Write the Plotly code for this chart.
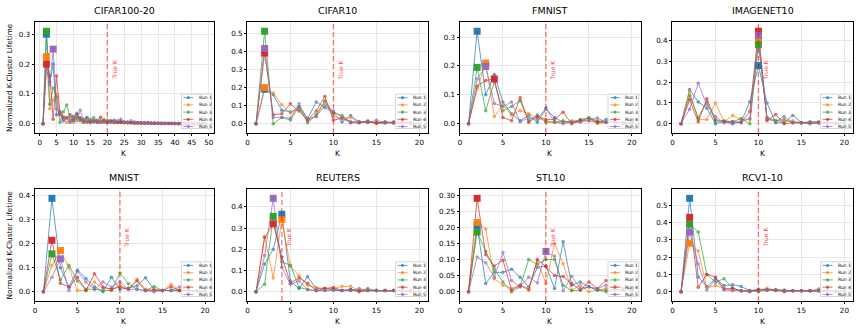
import plotly.graph_objects as go
from plotly.subplots import make_subplots

RUNS = ["Run 1", "Run 2", "Run 3", "Run 4", "Run 5"]
COLORS = ["#1f77b4", "#ff7f0e", "#2ca02c", "#d62728", "#9467bd"]

K_LONG = list(range(1, 50))
K_SHORT = list(range(1, 21))

CIFAR100_20 = [
    [0, 0.30, 0.14, 0.20, 0.03, 0.04, 0.01, 0.02, 0.005, 0.025,
     0.035, 0.01, 0.015, 0.02, 0.005, 0.01, 0.012, 0.005, 0.008, 0.005,
     0.01, 0.012, 0.005, 0.008, 0.004, 0.006, 0.003, 0.005, 0.003, 0.004,
     0.002, 0.003, 0.002, 0.003, 0.002, 0.002, 0.001, 0.002, 0.001, 0.001,
     0.001, 0.001, 0, 0, 0, 0, 0, 0, 0],
    [0, 0.225, 0.05, 0.08, 0.10, 0.03, 0.025, 0.005, 0.01, 0.005,
     0.02, 0.01, 0.005, 0.01, 0.004, 0.008, 0.005, 0.006, 0.015, 0.004,
     0.008, 0.003, 0.005, 0.004, 0.006, 0.003, 0.004, 0.002, 0.003, 0.002,
     0.002, 0.003, 0.001, 0.002, 0.001, 0.002, 0.001, 0.001, 0.001, 0.001,
     0, 0.001, 0, 0, 0, 0, 0, 0, 0],
    [0, 0.31, 0.065, 0.12, 0.09, 0.005, 0.04, 0.063, 0.02, 0.01,
     0.02, 0.015, 0.005, 0.02, 0.005, 0.02, 0.008, 0.01, 0.005, 0.012,
     0.006, 0.008, 0.004, 0.005, 0.006, 0.003, 0.004, 0.005, 0.002, 0.003,
     0.002, 0.003, 0.002, 0.002, 0.001, 0.002, 0.001, 0.001, 0.001, 0.001,
     0.001, 0, 0, 0, 0, 0, 0, 0, 0],
    [0, 0.20, 0.16, 0.015, 0.16, 0.035, 0.02, 0.02, 0.03, 0.015,
     0.03, 0.02, 0.01, 0.005, 0.01, 0.008, 0.005, 0.022, 0.01, 0.005,
     0.008, 0.004, 0.006, 0.005, 0.003, 0.004, 0.003, 0.002, 0.004, 0.002,
     0.003, 0.002, 0.002, 0.001, 0.002, 0.001, 0.002, 0.001, 0.001, 0.001,
     0, 0.001, 0, 0, 0, 0, 0, 0, 0],
    [0, 0.185, 0.13, 0.25, 0.05, 0.03, 0.015, 0.02, 0.01, 0.02,
     0.01, 0.045, 0.01, 0.008, 0.015, 0.005, 0.01, 0.004, 0.006, 0.005,
     0.004, 0.006, 0.01, 0.015, 0.005, 0.004, 0.01, 0.003, 0.002, 0.003,
     0.002, 0.002, 0.002, 0.001, 0.002, 0.001, 0.001, 0.001, 0.001, 0.001,
     0.001, 0, 0, 0, 0, 0, 0, 0, 0],
]

CIFAR10 = [
    [0, 0.19, 0.16, 0.075, 0.065, 0.09, 0.03, 0.12, 0.09, 0.06,
     0.01, 0.045, 0.01, 0.01, 0.005, 0.01, 0.005, 0.005, 0.004, 0.003],
    [0, 0.20, 0.17, 0.105, 0.06, 0.08, 0.02, 0.04, 0.12, 0.04,
     0.03, 0.035, 0.005, 0.015, 0.0, 0.005, 0.01, 0.005, 0.004, 0.003],
    [0, 0.51, 0.0, 0.035, 0.02, 0.095, 0.005, 0.05, 0.125, 0.06,
     0.045, 0.01, 0.01, 0.015, 0.005, 0.01, 0.005, 0.005, 0.003, 0.003],
    [0, 0.39, 0.05, 0.055, 0.11, 0.07, 0.02, 0.07, 0.15, 0.02,
     0.03, 0.005, 0.005, 0.01, 0.005, 0.005, 0.005, 0.004, 0.003, 0.002],
    [0, 0.415, 0.035, 0.035, 0.03, 0.11, 0.025, 0.04, 0.10, 0.07,
     0.035, 0.01, 0.01, 0.005, 0.02, 0.005, 0.01, 0.005, 0.004, 0.003],
]

FMNIST = [
    [0, 0.32, 0.10, 0.17, 0.075, 0.035, 0.01, 0.03, 0.005, 0.05,
     0.022, 0.005, 0.005, 0.01, 0.02, 0.005, 0.015, 0.005, 0.004, 0.003],
    [0, 0.12, 0.21, 0.025, 0.065, 0.03, 0.045, 0.035, 0.02, 0.01,
     0.005, 0.005, 0.01, 0.01, 0.02, 0.0, 0.005, 0.005, 0.003, 0.003],
    [0, 0.195, 0.045, 0.145, 0.045, 0.06, 0.08, 0.01, 0.03, 0.005,
     0.005, 0.01, 0.005, 0.015, 0.02, 0.01, 0.005, 0.004, 0.003, 0.002],
    [0, 0.13, 0.15, 0.155, 0.022, 0.01, 0.09, 0.005, 0.025, 0.015,
     0.015, 0.04, 0.0, 0.01, 0.01, 0.005, 0.005, 0.004, 0.003, 0.002],
    [0, 0.155, 0.198, 0.07, 0.06, 0.075, 0.007, 0.02, 0.015, 0.055,
     0.005, 0.0, 0.005, 0.005, 0.015, 0.02, 0.005, 0.004, 0.003, 0.002],
]

IMAGENET10 = [
    [0, 0.165, 0.105, 0.075, 0.0, 0.01, 0.0, 0.01, 0.105, 0.28,
     0.10, 0.005, 0.005, 0.04, 0.005, 0.0, 0.005, 0.004, 0.003, 0.002],
    [0, 0.155, 0.02, 0.02, 0.10, 0.01, 0.04, 0.02, 0.02, 0.40,
     0.02, 0.015, 0.01, 0.015, 0.005, 0.005, 0.005, 0.004, 0.003, 0.002],
    [0, 0.135, 0.03, 0.105, 0.01, 0.015, 0.01, 0.025, 0.0, 0.38,
     0.03, 0.015, 0.02, 0.005, 0.005, 0.01, 0.01, 0.005, 0.003, 0.002],
    [0, 0.115, 0.01, 0.12, 0.02, 0.01, 0.01, 0.005, 0.06, 0.445,
     0.015, 0.045, 0.0, 0.005, 0.005, 0.005, 0.005, 0.004, 0.003, 0.002],
    [0, 0.07, 0.195, 0.09, 0.035, 0.005, 0.005, 0.01, 0.025, 0.425,
     0.025, 0.01, 0.035, 0.005, 0.005, 0.005, 0.005, 0.004, 0.003, 0.002],
]

MNIST = [
    [0, 0.39, 0.10, 0.02, 0.09, 0.055, 0.02, 0.0, 0.06, 0.01,
     0.015, 0.025, 0.058, 0.01, 0.005, 0.005, 0.005, 0.004, 0.003, 0.002],
    [0, 0.11, 0.172, 0.10, 0.005, 0.005, 0.04, 0.015, 0.01, 0.025,
     0.01, 0.052, 0.01, 0.01, 0.005, 0.03, 0.005, 0.004, 0.003, 0.002],
    [0, 0.158, 0.05, 0.11, 0.045, 0.01, 0.01, 0.005, 0.005, 0.078,
     0.033, 0.01, 0.005, 0.022, 0.005, 0.005, 0.005, 0.004, 0.003, 0.002],
    [0, 0.215, 0.035, 0.02, 0.06, 0.005, 0.075, 0.02, 0.01, 0.02,
     0.01, 0.045, 0.005, 0.005, 0.005, 0.02, 0.005, 0.004, 0.003, 0.002],
    [0, 0.06, 0.137, 0.005, 0.085, 0.04, 0.01, 0.04, 0.02, 0.04,
     0.01, 0.01, 0.005, 0.0, 0.005, 0.005, 0.02, 0.004, 0.003, 0.002],
]

REUTERS = [
    [0, 0.13, 0.20, 0.365, 0.05, 0.015, 0.07, 0.015, 0.015, 0.01,
     0.005, 0.01, 0.005, 0.005, 0.005, 0.005, 0.005, 0.004, 0.003, 0.002],
    [0, 0.26, 0.065, 0.34, 0.12, 0.075, 0.03, 0.02, 0.015, 0.015,
     0.025, 0.025, 0.005, 0.005, 0.005, 0.005, 0.005, 0.004, 0.003, 0.002],
    [0, 0.035, 0.355, 0.14, 0.125, 0.02, 0.01, 0.005, 0.005, 0.01,
     0.005, 0.005, 0.005, 0.015, 0.005, 0.005, 0.005, 0.004, 0.003, 0.002],
    [0, 0.255, 0.32, 0.165, 0.04, 0.065, 0.04, 0.005, 0.015, 0.02,
     0.005, 0.01, 0.0, 0.005, 0.005, 0.005, 0.005, 0.004, 0.003, 0.002],
    [0, 0.17, 0.44, 0.115, 0.035, 0.05, 0.01, 0.005, 0.005, 0.005,
     0.005, 0.005, 0.015, 0.005, 0.005, 0.005, 0.005, 0.004, 0.003, 0.002],
]

STL10 = [
    [0, 0.205, 0.025, 0.06, 0.06, 0.07, 0.045, 0.015, 0.075, 0.08,
     0.01, 0.155, 0.02, 0.03, 0.015, 0.005, 0.005, 0.005, 0.004, 0.003],
    [0, 0.215, 0.195, 0.04, 0.02, 0.01, 0.02, 0.01, 0.095, 0.025,
     0.15, 0.087, 0.005, 0.02, 0.0, 0.005, 0.01, 0.005, 0.004, 0.003],
    [0, 0.185, 0.125, 0.07, 0.03, 0.0, 0.015, 0.10, 0.085, 0.10,
     0.10, 0.02, 0.003, 0.005, 0.015, 0.005, 0.0, 0.005, 0.004, 0.003],
    [0, 0.29, 0.115, 0.08, 0.098, 0.005, 0.02, 0.005, 0.10, 0.078,
     0.05, 0.047, 0.025, 0.005, 0.03, 0.01, 0.035, 0.02, 0.01, 0.005],
    [0, 0.108, 0.09, 0.045, 0.122, 0.035, 0.015, 0.045, 0.028, 0.125,
     0.11, 0.003, 0.048, 0.01, 0.015, 0.01, 0.02, 0.01, 0.005, 0.003],
]

RCV1_10 = [
    [0, 0.54, 0.085, 0.03, 0.075, 0.035, 0.04, 0.03, 0.005, 0.01,
     0.01, 0.01, 0.005, 0.005, 0.005, 0.005, 0.005, 0.004, 0.003, 0.002],
    [0, 0.28, 0.235, 0.025, 0.035, 0.02, 0.01, 0.005, 0.005, 0.01,
     0.02, 0.01, 0.005, 0.005, 0.005, 0.005, 0.005, 0.004, 0.003, 0.002],
    [0, 0.39, 0.345, 0.10, 0.055, 0.075, 0.02, 0.005, 0.005, 0.0,
     0.01, 0.01, 0.01, 0.005, 0.005, 0.005, 0.015, 0.005, 0.003, 0.002],
    [0, 0.43, 0.025, 0.10, 0.085, 0.015, 0.02, 0.005, 0.0, 0.01,
     0.01, 0.01, 0.0, 0.005, 0.005, 0.005, 0.005, 0.004, 0.003, 0.002],
    [0, 0.345, 0.16, 0.01, 0.07, 0.01, 0.005, 0.005, 0.005, 0.015,
     0.01, 0.005, 0.005, 0.005, 0.005, 0.005, 0.005, 0.004, 0.003, 0.002],
]

# (title, runs, k values, true k)
PANELS = [
    ("CIFAR100-20", CIFAR100_20, K_LONG, 20),
    ("CIFAR10", CIFAR10, K_SHORT, 10),
    ("FMNIST", FMNIST, K_SHORT, 10),
    ("IMAGENET10", IMAGENET10, K_SHORT, 10),
    ("MNIST", MNIST, K_SHORT, 10),
    ("REUTERS", REUTERS, K_SHORT, 4),
    ("STL10", STL10, K_SHORT, 10),
    ("RCV1-10", RCV1_10, K_SHORT, 10),
]

W, H = 859, 331
X_DOMAINS = [(33, 212), (246, 427), (459, 640), (672, 853)]
Y_DOMAINS = [(22, 133), (189, 301)]
FONT = "DejaVu Sans"


def rgba(hex_color, alpha):
    h = hex_color.lstrip("#")
    r, g, b = int(h[0:2], 16), int(h[2:4], 16), int(h[4:6], 16)
    return f"rgba({r},{g},{b},{alpha})"


fig = make_subplots(rows=2, cols=4)

for i, (title, runs, ks, true_k) in enumerate(PANELS):
    row, col = i // 4 + 1, i % 4 + 1
    s = "" if i == 0 else str(i + 1)
    xd, yd = f"x{s} domain", f"y{s} domain"

    for j, vals in enumerate(runs):
        fig.add_trace(go.Scatter(
            x=ks, y=vals, mode="lines+markers", name=RUNS[j],
            line=dict(color=COLORS[j], width=1), opacity=0.7,
            marker=dict(size=3.5, color=COLORS[j]), showlegend=False,
        ), row=row, col=col)
    for j, vals in enumerate(runs):
        m = max(vals)
        km = ks[vals.index(m)]
        fig.add_trace(go.Scatter(
            x=[km], y=[m], mode="markers", opacity=0.95,
            marker=dict(symbol="square", size=7, color=COLORS[j]),
            showlegend=False, hoverinfo="skip",
        ), row=row, col=col)

    ymax = max(max(v) for v in runs)
    x0p, x1p = X_DOMAINS[col - 1]
    y0p, y1p = Y_DOMAINS[row - 1]
    xrange = [-1.4, 51.4] if len(ks) > 20 else [0, 21]
    fig.update_xaxes(domain=[x0p / W, x1p / W], range=xrange, dtick=5, tick0=0,
                     row=row, col=col)
    is_stl = title == "STL10"
    fig.update_yaxes(
        domain=[1 - y1p / H, 1 - y0p / H], range=[-0.1 * ymax, 1.1 * ymax],
        dtick=0.05 if is_stl else 0.1, tick0=0,
        tickformat=".2f" if is_stl else ".1f", row=row, col=col,
    )

    # true K marker
    fig.add_shape(type="line", xref=f"x{s}", yref=yd, x0=true_k, x1=true_k,
                  y0=0, y1=1, line=dict(color="rgba(255,0,0,0.5)", width=1.4, dash="5px,3px"))
    fig.add_annotation(text="True K", xref=f"x{s}", yref=yd, x=true_k, y=0.685,
                       xshift=7, textangle=-90, showarrow=False,
                       font=dict(size=6, color="rgba(255,0,0,0.8)", family=FONT))

    # title and axis labels
    fig.add_annotation(text=title, xref=xd, yref=yd, x=0.5, y=1, yanchor="bottom",
                       yshift=4, showarrow=False, font=dict(size=9.5, color="black", family=FONT))
    fig.add_annotation(text="K", xref=xd, yref=yd, x=0.5, y=0, yanchor="top",
                       yshift=-14, showarrow=False, font=dict(size=7.5, color="black", family=FONT))
    if col == 1:
        fig.add_annotation(text="Normalized K-Cluster Lifetime", xref=xd, yref=yd,
                           x=0, y=0.5, xanchor="right", xshift=-19, textangle=-90,
                           showarrow=False, font=dict(size=7.3, color="black", family=FONT))

    # legend box in the lower right corner
    fig.add_shape(type="rect", xref=xd, yref=yd, x0=0.82, x1=0.99, y0=0.04, y1=0.35,
                  fillcolor="rgba(255,255,255,0.8)", line=dict(color="#cccccc", width=0.8))
    for j, name in enumerate(RUNS):
        ly = 0.318 - 0.0649 * j
        fig.add_shape(type="line", xref=xd, yref=yd, x0=0.831, x1=0.887, y0=ly, y1=ly,
                      line=dict(color=rgba(COLORS[j], 0.7), width=1))
        fig.add_shape(type="circle", xref=xd, yref=yd, xsizemode="pixel", ysizemode="pixel",
                      xanchor=0.859, yanchor=ly, x0=-1.6, x1=1.6, y0=-1.6, y1=1.6,
                      fillcolor=rgba(COLORS[j], 0.7), line=dict(width=0))
        fig.add_annotation(text=name, xref=xd, yref=yd, x=0.905, y=ly, xanchor="left",
                           yanchor="middle", showarrow=False,
                           font=dict(size=4.5, color="black", family=FONT))

axis_style = dict(
    showline=True, mirror=True, linecolor="black", linewidth=0.8,
    ticks="outside", ticklen=2.5, tickwidth=0.7, tickcolor="black",
    showgrid=True, gridcolor="#e8e8e8", gridwidth=0.8, zeroline=False,
    tickfont=dict(size=7.2, color="black", family=FONT),
)
fig.update_xaxes(**axis_style)
fig.update_yaxes(**axis_style)

fig.update_layout(
    width=W, height=H, margin=dict(l=0, r=0, t=0, b=0),
    plot_bgcolor="white", paper_bgcolor="white",
    font=dict(family=FONT), showlegend=False,
)

fig.write_html("out.html", config={"displayModeBar": False},
               post_script="document.body.style.margin='0';")
